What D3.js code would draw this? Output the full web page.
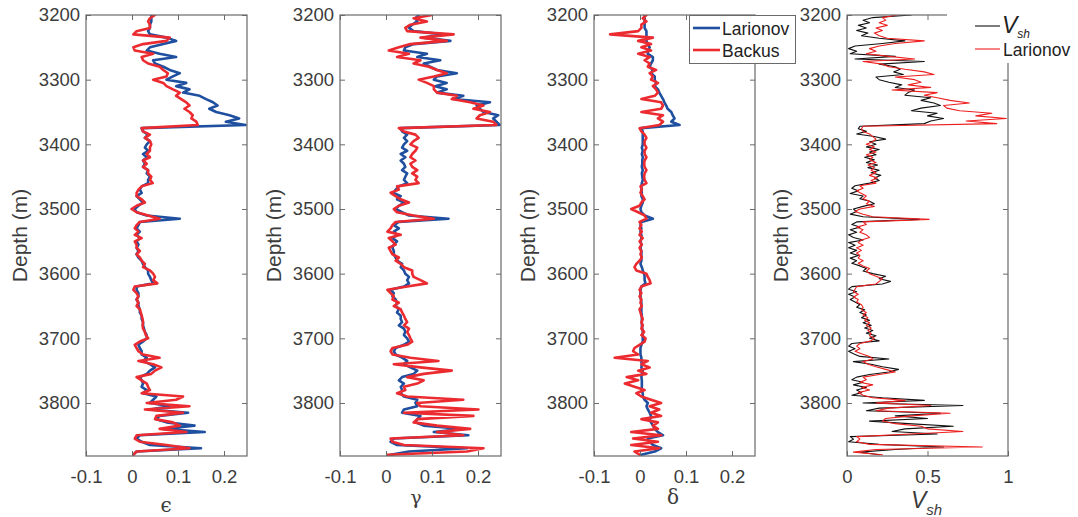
<!DOCTYPE html>
<html>
<head>
<meta charset="utf-8">
<script src="https://cdn.jsdelivr.net/npm/d3@7"></script>
<style>
  body { margin: 0; background: #fff; }
  svg { display: block; }
</style>
</head>
<body>
<svg id="chart" width="1078" height="517"></svg>
<script>
// Depth samples (m) for the anisotropy logs, every 5 m
const depth5 = [
  3200,3205,3210,3215,3220,3225,3230,3235,3240,3245,
  3250,3255,3260,3265,3270,3275,3280,3285,3290,3295,
  3300,3305,3310,3315,3320,3325,3330,3335,3340,3345,
  3350,3355,3360,3365,3370,3375,3380,3385,3390,3395,
  3400,3405,3410,3415,3420,3425,3430,3435,3440,3445,
  3450,3455,3460,3465,3470,3475,3480,3485,3490,3495,
  3500,3505,3510,3515,3520,3525,3530,3535,3540,3545,
  3550,3555,3560,3565,3570,3575,3580,3585,3590,3595,
  3600,3605,3610,3615,3620,3625,3630,3635,3640,3645,
  3650,3655,3660,3665,3670,3675,3680,3685,3690,3695,
  3700,3705,3710,3715,3720,3725,3730,3735,3740,3745,
  3750,3755,3760,3765,3770,3775,3780,3785,3790,3795,
  3800,3805,3810,3815,3820,3825,3830,3835,3840,3845,
  3850,3855,3860,3865,3870,3875,3880
];

// Thomsen epsilon
const epsLarionov = [
  0.042,0.042,0.042,0.039,0.039,0.035,0.039,0.075,0.096,0.068,
  0.039,0.032,0.060,0.096,0.046,0.050,0.068,0.082,0.104,0.089,
  0.075,0.118,0.096,0.125,0.111,0.147,0.161,0.176,0.186,0.168,
  0.183,0.212,0.233,0.204,0.247,0.021,0.024,0.035,0.028,0.039,
  0.032,0.028,0.035,0.024,0.032,0.024,0.028,0.024,0.035,0.032,
  0.039,0.035,0.035,0.021,0.017,0.021,0.010,0.017,0.024,0.014,
  0.006,0.010,0.032,0.104,0.017,0.014,0.010,0.017,0.010,0.017,
  0.010,0.014,0.010,0.014,0.010,0.014,0.021,0.024,0.028,0.035,
  0.035,0.039,0.042,0.046,0.010,0.010,0.014,0.014,0.010,0.014,
  0.014,0.017,0.017,0.021,0.021,0.024,0.024,0.026,0.028,0.032,
  0.032,0.024,0.014,0.017,0.021,0.021,0.032,0.024,0.039,0.050,
  0.039,0.032,0.017,0.021,0.024,0.021,0.032,0.024,0.053,0.046,
  0.039,0.082,0.039,0.122,0.060,0.053,0.075,0.136,0.068,0.158,
  0.017,0.010,0.021,0.039,0.150,0.010,0.003
];
const epsBackus = [
  0.050,0.039,0.035,0.039,0.039,0.010,0.003,0.082,0.075,0.024,
  0.003,0.006,0.046,0.021,0.024,0.035,0.060,0.068,0.078,0.075,
  0.046,0.068,0.075,0.089,0.104,0.096,0.107,0.118,0.125,0.114,
  0.125,0.132,0.129,0.140,0.143,0.021,0.024,0.039,0.028,0.039,
  0.042,0.039,0.039,0.032,0.039,0.024,0.032,0.024,0.035,0.035,
  0.042,0.039,0.045,0.021,0.014,0.010,0.010,0.021,0.028,0.010,
  -0.001,0.010,0.035,0.060,0.017,0.010,0.006,0.014,0.006,0.021,
  0.006,0.010,0.010,0.017,0.010,0.017,0.021,0.028,0.024,0.039,
  0.046,0.050,0.046,0.055,0.006,0.003,0.010,0.014,0.010,0.014,
  0.010,0.017,0.019,0.021,0.023,0.024,0.023,0.024,0.028,0.030,
  0.035,0.017,0.006,0.010,0.014,0.024,0.060,0.014,0.046,0.064,
  0.050,0.042,0.010,0.021,0.032,0.035,0.039,0.021,0.111,0.096,
  0.032,0.125,0.028,0.111,0.053,0.050,0.089,0.104,0.060,0.118,
  0.010,0.006,0.017,0.075,0.125,0.010,0.003
];

// Thomsen gamma
const gammaLarionov = [
  0.071,0.064,0.068,0.057,0.050,0.060,0.125,0.082,0.140,0.060,
  0.042,0.039,0.089,0.068,0.118,0.082,0.096,0.111,0.154,0.111,
  0.104,0.132,0.107,0.132,0.111,0.168,0.147,0.226,0.197,0.204,
  0.212,0.244,0.233,0.240,0.247,0.032,0.035,0.046,0.039,0.046,
  0.039,0.035,0.046,0.032,0.042,0.032,0.039,0.042,0.035,0.046,
  0.042,0.039,0.046,0.028,0.021,0.017,0.032,0.024,0.039,0.028,
  0.021,0.035,0.050,0.136,0.028,0.017,0.028,0.017,0.024,0.014,
  0.024,0.017,0.014,0.017,0.017,0.021,0.024,0.035,0.032,0.039,
  0.042,0.050,0.046,0.050,0.039,0.010,0.017,0.014,0.021,0.024,
  0.021,0.028,0.024,0.032,0.032,0.035,0.028,0.039,0.042,0.039,
  0.046,0.050,0.039,0.021,0.017,0.021,0.035,0.046,0.039,0.053,
  0.068,0.060,0.035,0.028,0.039,0.032,0.035,0.032,0.039,0.068,
  0.064,0.068,0.039,0.035,0.075,0.068,0.064,0.082,0.168,0.104,
  0.179,0.017,0.010,0.024,0.176,0.050,0.010
];
const gammaBackus = [
  0.100,0.060,0.089,0.053,0.042,0.046,0.147,0.075,0.132,0.053,
  0.028,0.006,0.050,0.024,0.075,0.060,0.093,0.111,0.132,0.104,
  0.071,0.089,0.104,0.104,0.111,0.154,0.143,0.183,0.212,0.190,
  0.226,0.204,0.197,0.233,0.240,0.028,0.039,0.064,0.071,0.060,
  0.053,0.068,0.064,0.057,0.053,0.064,0.053,0.057,0.068,0.057,
  0.068,0.064,0.071,0.024,0.028,0.010,0.021,0.032,0.050,0.028,
  0.017,0.024,0.060,0.104,0.021,0.014,0.010,0.003,0.032,0.006,
  0.014,0.021,0.006,0.010,0.014,0.028,0.021,0.032,0.039,0.057,
  0.057,0.060,0.075,0.089,0.046,0.003,0.010,0.017,0.014,0.028,
  0.017,0.032,0.035,0.039,0.042,0.046,0.039,0.050,0.046,0.050,
  0.053,0.057,0.046,0.014,0.010,0.014,0.053,0.114,0.017,0.075,
  0.143,0.082,0.046,0.082,0.068,0.039,0.042,0.024,0.046,0.168,
  0.068,0.075,0.201,0.039,0.190,0.068,0.060,0.111,0.183,0.111,
  0.168,0.010,0.014,0.039,0.212,0.176,0.003
];

// Thomsen delta
const deltaLarionov = [
  0.010,0.010,0.010,0.010,0.010,0.014,0.014,0.014,0.014,0.017,
  0.021,0.017,0.017,0.028,0.028,0.024,0.021,0.028,0.024,0.032,
  0.032,0.035,0.032,0.039,0.042,0.046,0.050,0.053,0.057,0.060,
  0.068,0.071,0.075,0.068,0.086,0.003,0.006,0.006,0.006,0.006,
  0.006,0.004,0.006,0.004,0.006,0.005,0.005,0.004,0.006,0.004,
  0.005,0.006,0.004,0.003,0.003,0.004,0.003,0.006,0.006,0.003,
  0.001,0.003,0.010,0.028,0.003,0.001,0.003,0.001,0.003,0.003,
  0.001,0.003,0.001,0.003,0.003,0.003,0.003,0.001,0.004,0.006,
  0.009,0.010,0.010,0.012,0.003,0.001,0.001,0.001,0.002,0.003,
  0.003,0.003,0.003,0.004,0.004,0.004,0.004,0.005,0.006,0.006,
  0.006,0.006,0.003,0.001,0.001,0.001,0.003,0.003,0.004,0.003,
  0.006,0.004,0.003,0.004,0.004,0.004,0.003,0.006,0.006,0.010,
  0.017,0.014,0.017,0.021,0.024,0.021,0.024,0.028,0.032,0.039,
  0.050,0.017,0.021,0.028,0.046,0.032,0.003
];
const deltaBackus = [
  0.014,0.006,0.014,0.003,0.003,-0.004,-0.065,0.028,-0.004,0.024,
  0.003,0.024,-0.004,0.021,0.010,0.021,0.017,0.035,0.021,0.028,
  0.024,0.039,0.028,0.035,0.039,0.032,0.003,0.046,0.050,0.046,
  0.003,0.050,0.039,0.050,0.042,-0.001,0.003,0.010,0.014,0.010,
  0.010,0.014,0.010,0.010,0.014,0.010,0.009,0.010,0.014,0.010,
  0.009,0.010,0.014,0.001,0.004,0.001,0.006,0.010,0.003,-0.001,
  -0.019,-0.004,0.010,0.014,-0.001,0.003,-0.001,0.004,-0.001,0.006,
  -0.001,0.004,-0.001,0.003,0.001,0.004,-0.001,-0.008,-0.012,-0.008,
  0.014,0.017,0.021,0.023,0.003,-0.001,0.003,-0.001,0.003,0.001,
  0.004,-0.001,0.001,0.003,0.006,0.003,0.006,0.003,0.009,0.003,
  0.012,0.010,-0.001,-0.012,-0.015,-0.004,-0.055,0.017,0.003,0.021,
  -0.004,0.014,-0.029,-0.004,-0.033,-0.012,0.010,-0.008,0.003,0.024,
  0.046,0.021,0.042,0.024,0.046,0.003,0.039,0.028,0.039,-0.019,
  0.046,-0.015,0.039,-0.019,0.042,-0.012,-0.001
];

// Depth samples (m) for the shale-volume logs, every 4 m
const depth4 = [
  3200,3204,3208,3212,3216,3220,3224,3228,3232,3236,
  3240,3244,3248,3252,3256,3260,3264,3268,3272,3276,
  3280,3284,3288,3292,3296,3300,3304,3308,3312,3316,
  3320,3324,3328,3332,3336,3340,3344,3348,3352,3356,
  3360,3364,3368,3372,3376,3380,3384,3388,3392,3396,
  3400,3404,3408,3412,3416,3420,3424,3428,3432,3436,
  3440,3444,3448,3452,3456,3460,3464,3468,3472,3476,
  3480,3484,3488,3492,3496,3500,3504,3508,3512,3516,
  3520,3524,3528,3532,3536,3540,3544,3548,3552,3556,
  3560,3564,3568,3572,3576,3580,3584,3588,3592,3596,
  3600,3604,3608,3612,3616,3620,3624,3628,3632,3636,
  3640,3644,3648,3652,3656,3660,3664,3668,3672,3676,
  3680,3684,3688,3692,3696,3700,3704,3708,3712,3716,
  3720,3724,3728,3732,3736,3740,3744,3748,3752,3756,
  3760,3764,3768,3772,3776,3780,3784,3788,3792,3796,
  3800,3804,3808,3812,3816,3820,3824,3828,3832,3836,
  3840,3844,3848,3852,3856,3860,3864,3868,3872,3876,
  3880
];
const vsh = [
  0.40,0.16,0.10,0.14,0.07,0.12,0.06,0.13,0.09,0.20,
  0.36,0.22,0.05,0.01,0.06,0.02,0.30,0.05,0.48,0.20,
  0.30,0.33,0.29,0.35,0.18,0.20,0.26,0.34,0.30,0.42,
  0.38,0.36,0.52,0.46,0.54,0.58,0.46,0.40,0.56,0.50,
  0.60,0.52,0.48,0.08,0.07,0.12,0.06,0.17,0.24,0.14,
  0.18,0.12,0.20,0.14,0.18,0.11,0.17,0.12,0.19,0.13,
  0.20,0.15,0.21,0.17,0.20,0.14,0.05,0.03,0.07,0.02,
  0.10,0.08,0.14,0.17,0.10,0.04,0.06,0.02,0.10,0.45,
  0.06,0.03,0.08,0.02,0.06,0.01,0.04,0.10,0.01,0.05,
  0.01,0.06,0.02,0.07,0.02,0.06,0.03,0.08,0.12,0.10,
  0.16,0.24,0.20,0.27,0.22,0.03,0.01,0.06,0.01,0.05,
  0.02,0.05,0.08,0.06,0.11,0.08,0.12,0.09,0.14,0.10,
  0.15,0.11,0.16,0.12,0.18,0.14,0.20,0.03,0.01,0.05,
  0.01,0.04,0.08,0.26,0.04,0.15,0.22,0.32,0.26,0.14,
  0.06,0.03,0.10,0.04,0.12,0.06,0.09,0.03,0.22,0.48,
  0.10,0.72,0.20,0.12,0.58,0.30,0.50,0.14,0.38,0.66,
  0.36,0.28,0.56,0.02,0.04,0.01,0.20,0.60,0.30,0.08,
  0.20
];
const vshLarionov = [
  0.31,0.22,0.24,0.20,0.25,0.18,0.22,0.17,0.20,0.25,
  0.48,0.30,0.20,0.14,0.18,0.12,0.26,0.42,0.10,0.22,
  0.26,0.36,0.48,0.54,0.30,0.42,0.46,0.38,0.52,0.28,
  0.56,0.48,0.56,0.64,0.76,0.60,0.62,0.70,0.90,0.80,
  0.99,0.74,0.93,0.10,0.09,0.10,0.14,0.16,0.18,0.16,
  0.12,0.17,0.14,0.18,0.12,0.16,0.14,0.18,0.13,0.17,
  0.15,0.18,0.14,0.19,0.15,0.18,0.08,0.10,0.06,0.09,
  0.12,0.10,0.14,0.12,0.17,0.08,0.05,0.10,0.16,0.51,
  0.10,0.12,0.06,0.10,0.08,0.12,0.14,0.09,0.07,0.10,
  0.06,0.09,0.06,0.08,0.07,0.10,0.07,0.10,0.14,0.12,
  0.14,0.18,0.22,0.20,0.18,0.06,0.05,0.04,0.07,0.04,
  0.07,0.06,0.09,0.10,0.09,0.12,0.10,0.13,0.11,0.14,
  0.12,0.15,0.13,0.15,0.14,0.17,0.15,0.08,0.06,0.08,
  0.05,0.09,0.14,0.16,0.10,0.13,0.18,0.24,0.30,0.20,
  0.10,0.12,0.08,0.16,0.09,0.14,0.07,0.10,0.16,0.36,
  0.18,0.52,0.26,0.18,0.64,0.40,0.24,0.22,0.30,0.46,
  0.50,0.72,0.40,0.06,0.08,0.06,0.14,0.84,0.18,0.04,
  0.22
];

// Axis ticks
const depthTicks = [3200, 3300, 3400, 3500, 3600, 3700, 3800];
const thomsenTicks = [-0.1, 0, 0.1, 0.2];
const vshTicks = [0, 0.5, 1];

// ---- drawing ----
const BLUE = "#1f4f9f", RED = "#eb2b30", AXIS = "#6a6a6a", TEXT = "#3c3c3c";
const SANS = "'Liberation Sans', Arial, Helvetica, sans-serif";
const svg = d3.select("#chart");

const plotTop = 15, plotBottom = 456, plotWidth = 161;
const y = d3.scaleLinear().domain([3200, 3882]).range([plotTop, plotBottom]);

const panels = [
  { left: 86,  domain: [-0.1, 0.25], ticks: thomsenTicks, depth: depth5,
    series: [{ v: epsLarionov, color: BLUE, width: 2.6 }, { v: epsBackus, color: RED, width: 2.6 }] },
  { left: 340, domain: [-0.1, 0.25], ticks: thomsenTicks, depth: depth5,
    series: [{ v: gammaLarionov, color: BLUE, width: 2.6 }, { v: gammaBackus, color: RED, width: 2.6 }] },
  { left: 594, domain: [-0.1, 0.25], ticks: thomsenTicks, depth: depth5,
    series: [{ v: deltaLarionov, color: BLUE, width: 2.6 }, { v: deltaBackus, color: RED, width: 2.6 }] },
  { left: 847, domain: [0, 1], ticks: vshTicks, depth: depth4,
    series: [{ v: vsh, color: "#111111", width: 1.1 }, { v: vshLarionov, color: "#ee1f1f", width: 1.1 }] }
];

// plain hyphen-minus for negative tick values
const fmt = d => String(d);

panels.forEach((p, i) => {
  const x = d3.scaleLinear().domain(p.domain).range([p.left, p.left + plotWidth]);
  const g = svg.append("g");

  // clip region for the curves
  const clipId = "clip" + i;
  svg.append("clipPath").attr("id", clipId)
    .append("rect").attr("x", p.left).attr("y", plotTop)
    .attr("width", plotWidth).attr("height", plotBottom - plotTop);

  const line = d3.line()
    .x(d => x(d[1]))
    .y(d => y(d[0]));

  p.series.forEach(s => {
    const pts = p.depth.map((dd, k) => [dd, s.v[k]]).filter(d => d[1] !== undefined);
    g.append("path")
      .attr("clip-path", `url(#${clipId})`)
      .attr("d", line(pts))
      .attr("fill", "none")
      .attr("stroke", s.color)
      .attr("stroke-width", s.width)
      .attr("stroke-linejoin", "round")
      .attr("stroke-linecap", "round");
  });

  // axes: ticks pointing inward on all four sides
  const styleAxis = sel => {
    sel.select(".domain").remove();
    sel.selectAll(".tick line").attr("stroke", AXIS).attr("stroke-width", 1);
    sel.selectAll(".tick text").attr("fill", TEXT).style("font-family", SANS).style("font-size", "18.5px");
  };
  g.append("g").attr("transform", `translate(${p.left},0)`)
    .call(d3.axisLeft(y).tickValues(depthTicks).tickSize(-5).tickPadding(6).tickFormat(fmt))
    .call(styleAxis);
  g.append("g").attr("transform", `translate(${p.left + plotWidth},0)`)
    .call(d3.axisRight(y).tickValues(depthTicks).tickSize(-5).tickFormat(""))
    .call(styleAxis);
  g.append("g").attr("transform", `translate(0,${plotBottom})`)
    .call(d3.axisBottom(x).tickValues(p.ticks).tickSize(-5).tickPadding(14).tickFormat(fmt))
    .call(styleAxis);
  g.append("g").attr("transform", `translate(0,${plotTop})`)
    .call(d3.axisTop(x).tickValues(p.ticks).tickSize(-5).tickFormat(""))
    .call(styleAxis);

  g.append("rect")
    .attr("x", p.left).attr("y", plotTop)
    .attr("width", plotWidth).attr("height", plotBottom - plotTop)
    .attr("fill", "none").attr("stroke", AXIS).attr("stroke-width", 1.2);

  // depth label
  g.append("text")
    .attr("transform", `translate(${p.left - 59},${(plotTop + plotBottom) / 2}) rotate(-90)`)
    .attr("text-anchor", "middle")
    .attr("fill", TEXT)
    .style("font-family", SANS).style("font-size", "21px")
    .text("Depth (m)");
});

// x-axis labels
const SERIF = "'DejaVu Serif', 'Liberation Serif', serif";
svg.append("text").attr("x", 166).attr("y", 512).attr("text-anchor", "middle")
  .attr("fill", TEXT).style("font-family", SERIF).style("font-size", "20px").text("ϵ");
svg.append("text").attr("x", 416).attr("y", 504).attr("text-anchor", "middle")
  .attr("fill", TEXT).style("font-family", SERIF).style("font-size", "19px").text("γ");
svg.append("text").attr("x", 673).attr("y", 504).attr("text-anchor", "middle")
  .attr("fill", TEXT).style("font-family", SERIF).style("font-size", "20px").text("δ");
const vx = svg.append("text").attr("x", 911).attr("y", 508)
  .attr("fill", TEXT).style("font-family", SANS).style("font-style", "italic");
vx.append("tspan").style("font-size", "23px").text("V");
vx.append("tspan").attr("dy", 7).style("font-size", "15px").text("sh");

// legend for the anisotropy panels
const lg = svg.append("g");
lg.append("rect").attr("x", 689.5).attr("y", 15.5).attr("width", 106).attr("height", 48)
  .attr("fill", "#fff").attr("stroke", AXIS).attr("stroke-width", 1);
[["Larionov", BLUE, 28], ["Backus", RED, 50]].forEach(([name, color, ly]) => {
  lg.append("line").attr("x1", 693).attr("x2", 720).attr("y1", ly).attr("y2", ly)
    .attr("stroke", color).attr("stroke-width", 2.6);
  lg.append("text").attr("x", 722).attr("y", ly + 7)
    .attr("fill", "#222").style("font-family", SANS).style("font-size", "17.5px").text(name);
});

// legend for the shale-volume panel
const lg4 = svg.append("g");
lg4.append("rect").attr("x", 947).attr("y", 0).attr("width", 131).attr("height", 63).attr("fill", "#fff");
lg4.append("line").attr("x1", 975).attr("x2", 1000).attr("y1", 26).attr("y2", 26)
  .attr("stroke", "#111").attr("stroke-width", 1.1);
lg4.append("line").attr("x1", 975).attr("x2", 1000).attr("y1", 49).attr("y2", 49)
  .attr("stroke", "#ee1f1f").attr("stroke-width", 1.1);
const vl = lg4.append("text").attr("x", 1002).attr("y", 33)
  .attr("fill", "#222").style("font-family", SANS).style("font-style", "italic");
vl.append("tspan").style("font-size", "23px").text("V");
vl.append("tspan").attr("dy", 5).style("font-size", "12px").text("sh");
lg4.append("text").attr("x", 1003).attr("y", 56)
  .attr("fill", "#222").style("font-family", SANS).style("font-size", "17.5px").text("Larionov");
</script>
</body>
</html>
